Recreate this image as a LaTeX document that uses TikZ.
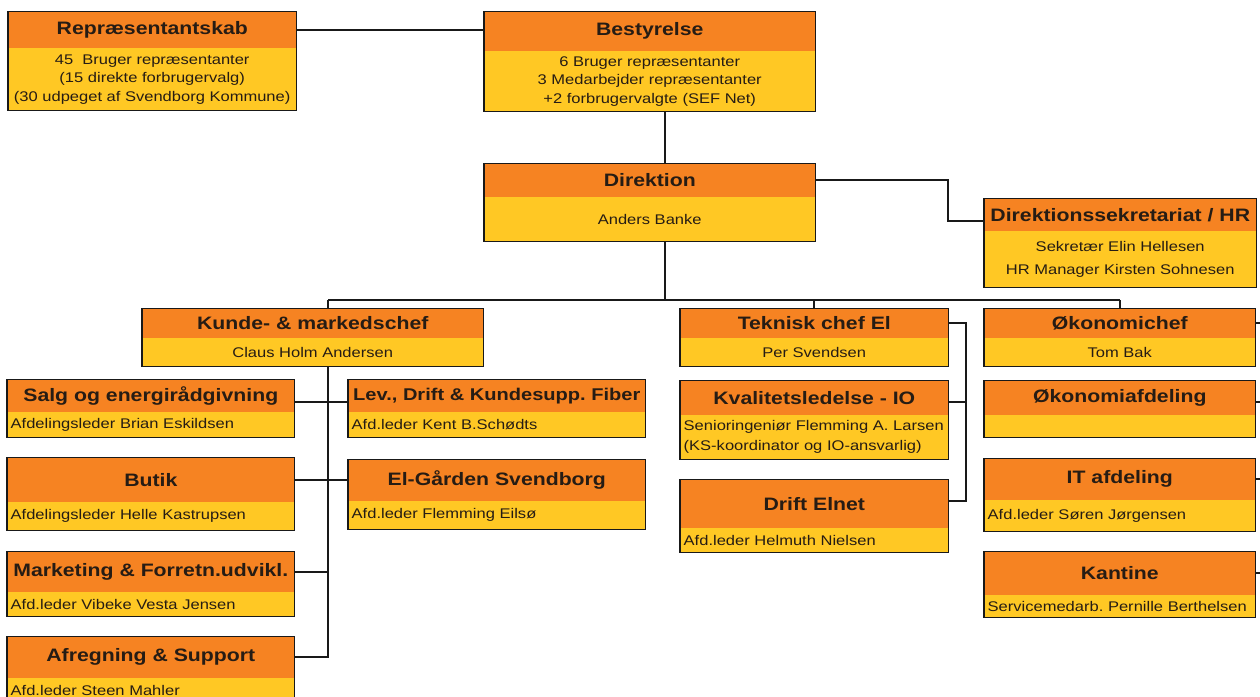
\documentclass[tikz,border=0pt]{standalone}
\usepackage{fontspec}
\setmainfont{Liberation Sans}[FakeStretch=1.18]
\usepackage{tikz}
\definecolor{hdorange}{RGB}{246,131,34}
\definecolor{bdyellow}{RGB}{255,200,36}
\definecolor{txt}{RGB}{38,28,20}
\newcommand\hdfont{\fontsize{18}{20}\selectfont\bfseries}
\newcommand\bdfont{\fontsize{14}{18.5}\selectfont}
\frenchspacing

\begin{document}
\begin{tikzpicture}[x=1pt,y=-1pt,
	head/.style={fill=hdorange, draw=hdorange, line width=0.6pt, text=txt, inner sep=0pt, anchor=north west, font=\hdfont, align=center},
	body/.style={fill=bdyellow, text=txt, inner xsep=3.5pt, inner ysep=0pt, anchor=north west, font=\bdfont},
	frame/.style={draw=black!90, line width=1.8pt},
	link/.style={draw=black!90, line width=1.7pt}]
	\useasboundingbox (0,0) rectangle (1260,696);
	\clip (0,0) rectangle (1260,696);
	% board
	\node[body, minimum width=288pt, minimum height=62pt, align=center] (repB) at (8,48) {45\ \ Bruger repræsentanter\\(15 direkte forbrugervalg)\\(30 udpeget af Svendborg Kommune)};
	\node[head, minimum width=288pt, minimum height=36pt, anchor=south west] (repH) at (repB.north west) {Repræsentantskab};
	\node[body, minimum width=331pt, minimum height=60pt, align=center] (bestB) at (484,51) {6 Bruger repræsentanter\\3 Medarbejder repræsentanter\\+2 forbrugervalgte (SEF Net)};
	\node[head, minimum width=331pt, minimum height=39pt, anchor=south west] (bestH) at (bestB.north west) {Bestyrelse};
	\node[body, minimum width=331pt, minimum height=44pt, align=center] (dirB) at (484,197) {Anders Banke};
	\node[head, minimum width=331pt, minimum height=33pt, anchor=south west] (dirH) at (dirB.north west) {Direktion};
	\node[body, minimum width=272pt, minimum height=56pt, align=center] (dsB) at (984,231) {Sekretær Elin Hellesen\\[4pt]HR Manager Kirsten Sohnesen};
	\node[head, minimum width=272pt, minimum height=32pt, anchor=south west] (dsH) at (dsB.north west) {Direktionssekretariat / HR};
	% chiefs
	\node[body, minimum width=341pt, minimum height=28pt, align=center] (kundeB) at (142,338) {Claus Holm Andersen};
	\node[head, minimum width=341pt, minimum height=29pt, anchor=south west] (kundeH) at (kundeB.north west) {Kunde- \& markedschef};
	\node[body, minimum width=268pt, minimum height=28pt, align=center] (tekB) at (680,338) {Per Svendsen};
	\node[head, minimum width=268pt, minimum height=29pt, anchor=south west] (tekH) at (tekB.north west) {Teknisk chef El};
	\node[body, minimum width=271pt, minimum height=28pt, align=center] (okoB) at (984,338) {Tom Bak};
	\node[head, minimum width=271pt, minimum height=29pt, anchor=south west] (okoH) at (okoB.north west) {Økonomichef};
	% customer side
	\node[body, text width=280pt, minimum height=25pt, align=left] (salgB) at (7,412) {Afdelingsleder Brian Eskildsen};
	\node[head, minimum width=287pt, minimum height=32pt, anchor=south west] (salgH) at (salgB.north west) {Salg og energirådgivning};
	\node[body, text width=290pt, minimum height=25pt, align=left] (levB) at (348,412) {Afd.leder Kent B.Schødts};
	\node[head, minimum width=297pt, minimum height=32pt, anchor=south west, font={\fontsize{17}{20}\selectfont\bfseries}] (levH) at (levB.north west) {Lev., Drift \& Kundesupp. Fiber};
	\node[body, text width=280pt, minimum height=28pt, align=left] (butikB) at (7,502) {Afdelingsleder Helle Kastrupsen};
	\node[head, minimum width=287pt, minimum height=44pt, anchor=south west] (butikH) at (butikB.north west) {Butik};
	\node[body, text width=290pt, minimum height=28pt, align=left] (elgB) at (348,501) {Afd.leder Flemming Eilsø};
	\node[head, minimum width=297pt, minimum height=41pt, anchor=south west] (elgH) at (elgB.north west) {El-Gården Svendborg};
	\node[body, text width=280pt, minimum height=24pt, align=left] (markB) at (7,592) {Afd.leder Vibeke Vesta Jensen};
	\node[head, minimum width=287pt, minimum height=40pt, anchor=south west] (markH) at (markB.north west) {Marketing \& Forretn.udvikl.};
	\node[body, text width=280pt, minimum height=24pt, align=left] (afrB) at (7,678) {Afd.leder Steen Mahler};
	\node[head, minimum width=287pt, minimum height=41pt, anchor=south west] (afrH) at (afrB.north west) {Afregning \& Support};
	% technical side
	\node[body, text width=261pt, minimum height=44pt, align=left] (kvalB) at (680,415) {Senioringeniør Flemming A. Larsen\\[1.5pt](KS-koordinator og IO-ansvarlig)};
	\node[head, minimum width=268pt, minimum height=34pt, anchor=south west] (kvalH) at (kvalB.north west) {Kvalitetsledelse - IO};
	\node[body, text width=261pt, minimum height=24pt, align=left] (driftB) at (680,528) {Afd.leder Helmuth Nielsen};
	\node[head, minimum width=268pt, minimum height=48pt, anchor=south west] (driftH) at (driftB.north west) {Drift Elnet};
	% economy side
	\node[body, minimum width=271pt, minimum height=22pt] (okoaB) at (984,415) {};
	\node[head, minimum width=271pt, minimum height=34pt, anchor=south west] (okoaH) at (okoaB.north west) {Økonomiafdeling};
	\node[body, text width=264pt, minimum height=31pt, align=left] (itB) at (984,500) {Afd.leder Søren Jørgensen};
	\node[head, minimum width=271pt, minimum height=41pt, anchor=south west] (itH) at (itB.north west) {IT afdeling};
	\node[body, text width=264pt, minimum height=22pt, align=left] (kantB) at (984,595) {Servicemedarb. Pernille Berthelsen};
	\node[head, minimum width=271pt, minimum height=43pt, anchor=south west] (kantH) at (kantB.north west) {Kantine};
	% connectors
	\coordinate (dirX) at (665,0);
	\coordinate (dsX) at (948,0);
	\coordinate (tekX) at (966,0);
	\coordinate (edge) at (1266,0);
	\coordinate (busL) at (328,300);
	\coordinate (busR) at (1120,300);
	\coordinate (dsC) at ([yshift=-6pt]dsH.west);
	\coordinate (salgC) at ([yshift=-6pt]salgH.east);
	\coordinate (kvalC) at ([yshift=-4pt]kvalH.east);
	\coordinate (driftC) at ([yshift=3pt]driftH.east);
	\coordinate (okoaC) at ([yshift=-4pt]okoaH.east);
	\draw [link] (repH.east) -- (repH.east -| bestH.west);
	\draw [link] (bestB.south -| dirX) -- (dirH.north -| dirX);
	\draw [link] (dirB.south -| dirX) -- (busL -| dirX);
	\draw [link] (dirH.east) -| (dsX |- dsC) -- (dsC);
	\draw [link] (busL) -- (busR);
	\draw [link] (busL) -- (kundeH.north -| busL);
	\draw [link] (kundeB.south -| busL) |- (afrH.east);
	\draw [link] (salgC) -- (salgC -| levH.west);
	\draw [link] (butikH.east) -- (butikH.east -| elgH.west);
	\draw [link] (markH.east) -- (markH.east -| busL);
	\draw [link] (busR -| tekH.north) -- (tekH.north);
	\draw [link] (tekH.east) -| (tekX |- driftC) -- (driftC);
	\draw [link] (kvalC) -- (kvalC -| tekX);
	\draw [link] (busR) -- (okoH.north -| busR);
	\draw [link] (okoH.east) -- (okoH.east -| edge);
	\draw [link] (okoaC) -- (okoaC -| edge);
	\draw [link] (itH.east) -- (itH.east -| edge);
	\draw [link] (kantH.east) -- (kantH.east -| edge);
	% frames
	\draw [frame] (repH.north west) rectangle (repB.south east);
	\draw [frame] (bestH.north west) rectangle (bestB.south east);
	\draw [frame] (dirH.north west) rectangle (dirB.south east);
	\draw [frame] (dsH.north west) rectangle (dsB.south east);
	\draw [frame] (kundeH.north west) rectangle (kundeB.south east);
	\draw [frame] (tekH.north west) rectangle (tekB.south east);
	\draw [frame] (okoH.north west) rectangle (okoB.south east);
	\draw [frame] (salgH.north west) rectangle (salgB.south east);
	\draw [frame] (levH.north west) rectangle (levB.south east);
	\draw [frame] (butikH.north west) rectangle (butikB.south east);
	\draw [frame] (elgH.north west) rectangle (elgB.south east);
	\draw [frame] (markH.north west) rectangle (markB.south east);
	\draw [frame] (afrH.north west) rectangle (afrB.south east);
	\draw [frame] (kvalH.north west) rectangle (kvalB.south east);
	\draw [frame] (driftH.north west) rectangle (driftB.south east);
	\draw [frame] (okoaH.north west) rectangle (okoaB.south east);
	\draw [frame] (itH.north west) rectangle (itB.south east);
	\draw [frame] (kantH.north west) rectangle (kantB.south east);
\end{tikzpicture}
\end{document}
